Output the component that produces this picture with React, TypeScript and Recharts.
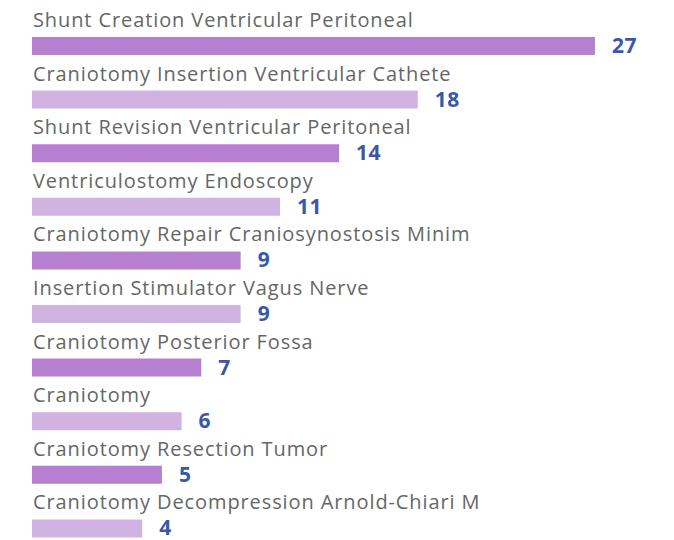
import React from 'react';
import { BarChart, Bar, XAxis, YAxis, Cell, LabelList } from 'recharts';

// procedure names, top to bottom
const categories = [
  'Shunt Creation Ventricular Peritoneal',
  'Craniotomy Insertion Ventricular Cathete',
  'Shunt Revision Ventricular Peritoneal',
  'Ventriculostomy Endoscopy',
  'Craniotomy Repair Craniosynostosis Minim',
  'Insertion Stimulator Vagus Nerve',
  'Craniotomy Posterior Fossa',
  'Craniotomy',
  'Craniotomy Resection Tumor',
  'Craniotomy Decompression Arnold-Chiari M',
];
const counts = [27, 18, 14, 11, 9, 9, 7, 6, 5, 4];

const DARK = '#b77fd0';
const LIGHT = '#d1b3e1';
const FONT = '"Open Sans", sans-serif';
// bars start a little before zero in the original, so the axis does too
const AXIS_MIN = -1.6;

const data = categories.map((name, i) => ({ name, value: counts[i] }));

const NameLabel = (props: any) => {
  const { x, y, value } = props;
  return (
    <text x={x + 1} y={y - 10} fill="#666" fontSize={20} letterSpacing={0.9} fontFamily={FONT}>
      {value}
    </text>
  );
};

const ValueLabel = (props: any) => {
  const { x, y, width, height, value } = props;
  return (
    <text
      x={x + width + 17}
      y={y + height / 2 - 1}
      fill="#3a58a8"
      fontSize={21}
      fontWeight={700}
      letterSpacing={0.5}
      fontFamily={FONT}
      dominantBaseline="central"
    >
      {value}
    </text>
  );
};

const App: React.FC = () => {
  return (
    <div style={{ position: 'absolute', left: 0, top: 0, width: 674, height: 540, overflow: 'hidden', background: '#fff' }}>
      <BarChart
        width={674}
        height={556}
        data={data}
        layout="vertical"
        margin={{ top: 19, right: 20, left: 32, bottom: 1 }}
        barSize={18}
      >
        <XAxis type="number" domain={[AXIS_MIN, 30]} hide />
        <YAxis type="category" dataKey="name" hide width={0} />
        <Bar dataKey={(d: any) => [AXIS_MIN, d.value]} isAnimationActive={false}>
          {data.map((_, i) => (
            <Cell key={i} fill={i % 2 === 0 ? DARK : LIGHT} />
          ))}
          <LabelList dataKey="name" content={NameLabel} />
          <LabelList dataKey="value" content={ValueLabel} />
        </Bar>
      </BarChart>
    </div>
  );
};

export default App;
